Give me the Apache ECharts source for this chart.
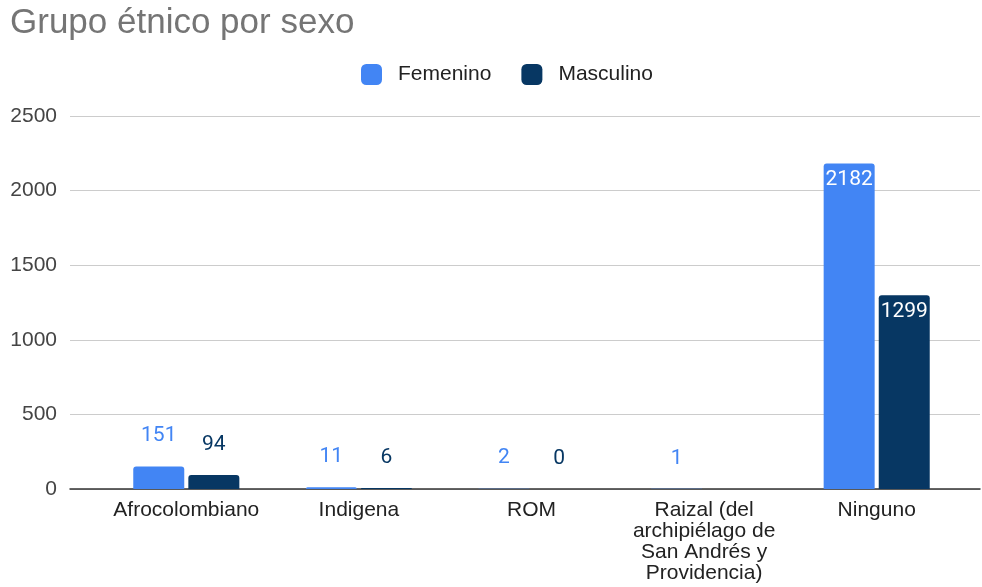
<!DOCTYPE html>
<html>
<head>
<meta charset="utf-8">
<script src="https://cdn.jsdelivr.net/npm/echarts@6/dist/echarts.min.js"></script>
<style>
  html, body { margin: 0; padding: 0; background: #fff; }
  #chart { width: 982px; height: 587px; }
</style>
</head>
<body>
<div id="chart"></div>
<script>
// datos del gráfico
const categorias = ['Afrocolombiano', 'Indigena', 'ROM', 'Raizal (del\narchipiélago de\nSan Andrés y\nProvidencia)', 'Ninguno'];
const femenino = [151, 11, 2, 1, 2182];
const masculino = [94, 6, 0, null, 1299];
const yTicks = [0, 500, 1000, 1500, 2000, 2500];

const colorFem = '#4285f4';
const colorMasc = '#073763';

// etiqueta dentro de la barra si es alta, encima si es baja
function conEtiquetas(valores, color) {
    return valores.map(function (v) {
        if (v === null) return null;
        if (v > 500) {
            return { value: v, label: { position: 'insideTop', distance: 6, color: '#fff' } };
        }
        return { value: v, label: { position: 'top', distance: 20, color: color } };
    });
}

const chart = echarts.init(document.getElementById('chart'));
const option = {
    animation: false,
    title: {
        text: 'Grupo étnico por sexo',
        left: 5,
        top: 1,
        textStyle: { fontFamily: 'Liberation Sans', fontSize: 35, fontWeight: 'normal', color: '#757575' }
    },
    legend: {
        data: ['Femenino', 'Masculino'],
        left: 356,
        top: 59,
        itemWidth: 21,
        itemHeight: 21,
        itemGap: 30,
        icon: 'roundRect',
        textStyle: { fontFamily: 'Liberation Sans', fontSize: 21, color: '#222', padding: [0, 0, 0, 11] }
    },
    grid: [
        { left: 70, right: 2, top: 116, bottom: 98 },
        { left: 100, right: 19, top: 116, bottom: 98 }
    ],
    xAxis: [
        {
            gridIndex: 0, type: 'value', min: 0, max: 1,
            axisLine: { show: true, onZero: true, lineStyle: { color: '#333', width: 1.5 } },
            axisTick: { show: false }, axisLabel: { show: false }, splitLine: { show: false }
        },
        {
            gridIndex: 1, type: 'category', data: categorias,
            axisLine: { show: false }, axisTick: { show: false },
            axisLabel: {
                interval: 0, margin: 11, fontFamily: 'Liberation Sans', fontSize: 21,
                color: '#222', lineHeight: 21, align: 'center', verticalAlign: 'top'
            }
        }
    ],
    yAxis: [
        {
            gridIndex: 0, type: 'value', min: yTicks[0], max: yTicks[yTicks.length - 1], interval: 500,
            axisLine: { show: false }, axisTick: { show: false },
            axisLabel: {
                margin: 13, fontFamily: 'Liberation Sans', fontSize: 21, color: '#444',
                formatter: function (v) { return String(v); }
            },
            splitLine: { lineStyle: { color: '#ccc', width: 1 } }
        },
        {
            gridIndex: 1, type: 'value', min: yTicks[0], max: yTicks[yTicks.length - 1], interval: 500,
            show: false, splitLine: { show: false }
        }
    ],
    series: [
        {
            name: 'Femenino', type: 'bar', xAxisIndex: 1, yAxisIndex: 1,
            data: conEtiquetas(femenino, colorFem),
            barWidth: 51, barGap: '8%',
            itemStyle: { color: colorFem, borderRadius: [3, 3, 0, 0] },
            label: { show: true, fontFamily: 'Roboto', fontSize: 21 }
        },
        {
            name: 'Masculino', type: 'bar', xAxisIndex: 1, yAxisIndex: 1,
            data: conEtiquetas(masculino, colorMasc),
            barWidth: 51, barGap: '8%',
            itemStyle: { color: colorMasc, borderRadius: [3, 3, 0, 0] },
            label: { show: true, fontFamily: 'Roboto', fontSize: 21 }
        }
    ]
};
chart.setOption(option);
</script>
</body>
</html>
